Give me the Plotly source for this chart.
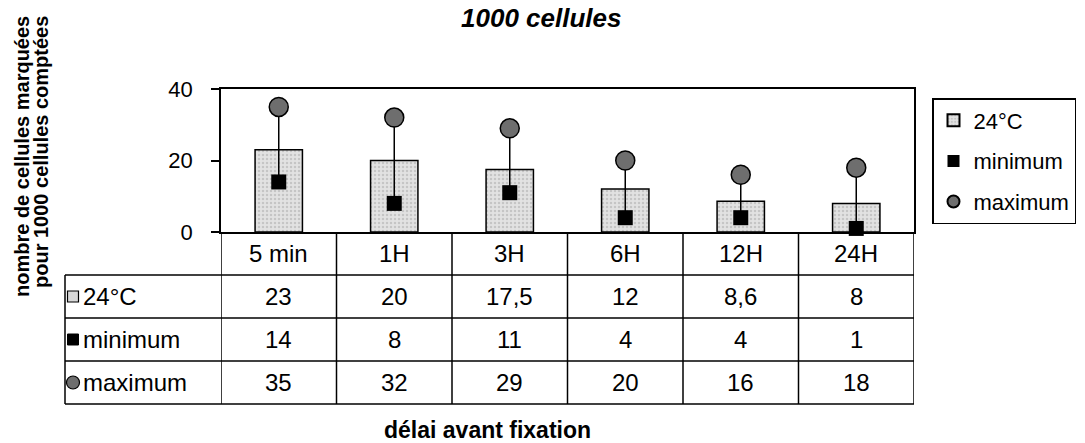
import plotly.graph_objects as go

# Délai avant fixation (catégories) et comptages pour 1000 cellules
categories = ["5 min", "1H", "3H", "6H", "12H", "24H"]
moyenne_24c = [23, 20, 17.5, 12, 8.6, 8]
minimum = [14, 8, 11, 4, 4, 1]
maximum = [35, 32, 29, 20, 16, 18]
row_labels = ["24°C", "minimum", "maximum"]
y_ticks = [0, 20, 40]

FONT = "Liberation Sans, Arial, sans-serif"
W, H = 1085, 443
L, R, T, B = 221, 171, 89, 211          # marges : zone de tracé 221..914 x 89..232
PW, PH = W - L - R, H - T - B


def px_x(px):
    """pixel horizontal -> coordonnée papier"""
    return (px - L) / PW


def px_y(py):
    """pixel vertical -> coordonnée papier"""
    return (H - B - py) / PH


def fr(v):
    """nombre au format français (virgule décimale)"""
    s = f"{v:g}"
    return s.replace(".", ",")


fig = go.Figure()

fig.add_trace(go.Bar(
    x=categories, y=moyenne_24c, name="24°C",
    marker=dict(color="#d6d6d6", line=dict(color="black", width=1.5),
                pattern=dict(shape=".", fgcolor="#a8a8a8", bgcolor="#e2e2e2",
                             size=4, solidity=0.3)),
    legendgroup="a",
))

fig.add_trace(go.Scatter(
    x=categories, y=minimum, name="minimum", mode="markers",
    marker=dict(symbol="square", size=15, color="black"),
    error_y=dict(type="data", symmetric=False,
                 array=[mx - mn for mx, mn in zip(maximum, minimum)],
                 arrayminus=[0] * len(minimum),
                 color="black", thickness=1.5, width=0),
    cliponaxis=False, legendgroup="b",
))

fig.add_trace(go.Scatter(
    x=categories, y=maximum, name="maximum", mode="markers",
    marker=dict(symbol="circle", size=19, color="#6e6e6e",
                line=dict(color="black", width=1.5)),
    cliponaxis=False, legendgroup="c",
))

shapes = []
line = dict(color="black", width=1.5)
row_h = 43
header_bottom = 232 + row_h
table_bottom = 232 + 4 * row_h
left_px = 65

# lignes verticales du tableau, alignées sur les limites de catégories
for i in range(len(categories) + 1):
    shapes.append(dict(type="line", xref="x", yref="paper",
                       x0=i - 0.5, x1=i - 0.5, y0=0, y1=px_y(table_bottom), line=line))
# bord gauche de la colonne des libellés
shapes.append(dict(type="line", xref="paper", yref="paper",
                   x0=px_x(left_px), x1=px_x(left_px),
                   y0=px_y(header_bottom), y1=px_y(table_bottom), line=line))
# lignes horizontales des rangées
for k in range(1, 5):
    yy = px_y(232 + k * row_h)
    shapes.append(dict(type="line", xref="paper", yref="paper",
                       x0=px_x(left_px), x1=1, y0=yy, y1=yy, line=line))

annotations = []
tfont = dict(family=FONT, size=24, color="black")


def note(**kw):
    base = dict(showarrow=False, xanchor="center", yanchor="middle")
    base.update(kw)
    annotations.append(base)


# en-têtes de colonnes
for c in categories:
    note(xref="x", yref="paper", x=c, y=px_y(232 + row_h / 2), text=c, font=tfont)
# valeurs
for r, series in enumerate([moyenne_24c, minimum, maximum]):
    yc = px_y(232 + row_h * (r + 1.5))
    for c, v in zip(categories, series):
        note(xref="x", yref="paper", x=c, y=yc, text=fr(v), font=tfont)
    note(xref="paper", yref="paper", x=px_x(81), y=yc, xanchor="left",
         text=row_labels[r], font=tfont)

# icônes des libellés de rangées
icx = 73
for r in range(3):
    cy = 232 + row_h * (r + 1.5)
    if r == 0:
        shapes.append(dict(type="rect", xref="paper", yref="paper",
                           x0=px_x(icx - 5.5), x1=px_x(icx + 5.5),
                           y0=px_y(cy - 5.5), y1=px_y(cy + 5.5),
                           fillcolor="#d8d8d8", line=dict(color="black", width=1.2)))
    elif r == 1:
        shapes.append(dict(type="rect", xref="paper", yref="paper",
                           x0=px_x(icx - 5.5), x1=px_x(icx + 5.5),
                           y0=px_y(cy - 5.5), y1=px_y(cy + 5.5),
                           fillcolor="black", line=dict(color="black", width=1)))
    else:
        shapes.append(dict(type="circle", xref="paper", yref="paper",
                           x0=px_x(icx - 6.5), x1=px_x(icx + 6.5),
                           y0=px_y(cy - 6.5), y1=px_y(cy + 6.5),
                           fillcolor="#6e6e6e", line=dict(color="black", width=1.2)))

# titres
note(xref="paper", yref="paper", x=px_x(541), y=px_y(18),
     text="<b><i>1000 cellules</i></b>", font=dict(family=FONT, size=26, color="black"))
note(xref="paper", yref="paper", x=px_x(487), y=px_y(430),
     text="<b>délai avant fixation</b>", font=dict(family=FONT, size=23, color="black"))
note(xref="paper", yref="paper", x=px_x(22), y=px_y(157), textangle=-90,
     text="<b>nombre de cellules marquées</b>", font=dict(family=FONT, size=20, color="black"))
note(xref="paper", yref="paper", x=px_x(41), y=px_y(152), textangle=-90,
     text="<b>pour 1000 cellules comptées</b>", font=dict(family=FONT, size=20, color="black"))

fig.update_layout(
    width=W, height=H,
    margin=dict(l=L, r=R, t=T, b=B, autoexpand=False),
    paper_bgcolor="white", plot_bgcolor="white",
    font=dict(family=FONT, color="black"),
    bargap=0.59,
    showlegend=True,
    legend=dict(x=px_x(932), y=px_y(98), xanchor="left", yanchor="top",
                bordercolor="black", borderwidth=1.5, bgcolor="white",
                font=dict(family=FONT, size=22), tracegroupgap=9,
                traceorder="grouped", itemwidth=30, itemsizing="constant"),
    xaxis=dict(range=[-0.5, len(categories) - 0.5], showticklabels=False,
               ticks="", showgrid=False, showline=True, linecolor="black",
               linewidth=1.5, mirror=True, zeroline=False, fixedrange=True),
    yaxis=dict(range=[0, 40], tickvals=y_ticks, ticks="outside", ticklen=8,
               tickwidth=1.5, tickcolor="black", ticklabelstandoff=14,
               tickfont=dict(family=FONT, size=22), showgrid=False,
               showline=True, linecolor="black", linewidth=1.5, mirror=True,
               zeroline=False, fixedrange=True),
    shapes=shapes,
    annotations=annotations,
)

fig.write_html("out.html")
